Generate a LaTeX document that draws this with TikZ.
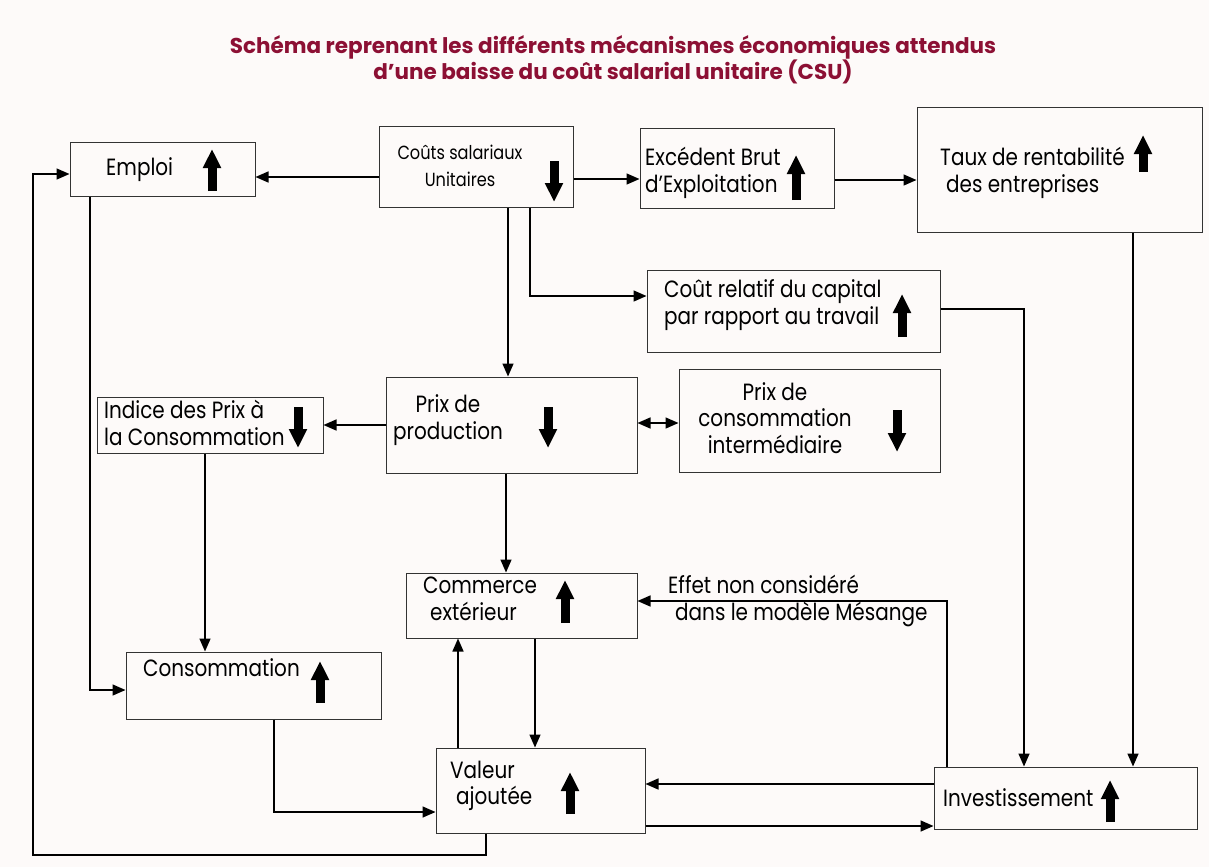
\documentclass[tikz,border=0pt]{standalone}
\usepackage{fontspec}
\usepackage{tikz}
\usetikzlibrary{arrows.meta}

\newfontfamily\bodyfont[FakeStretch=0.85]{Poppins}
\newfontfamily\titlefont{Poppins}

\definecolor{titlered}{RGB}{140,16,52}
\definecolor{paper}{RGB}{253,250,249}

\tikzset{
    box/.style={draw=black!80, line width=1pt, inner sep=0pt},
    lbl/.style={font=\bodyfont\fontsize{23.5}{26.5}\selectfont, anchor=west, align=left, inner sep=0pt},
    ttl/.style={font=\titlefont\bfseries\fontsize{21.5}{26}\selectfont, text=titlered, align=center, inner sep=0pt},
    conn/.style={line width=1.5pt, -{Triangle[length=13pt,width=11pt]}},
    bigarr/.style={line width=9pt, -{Triangle[length=19pt,width=17pt]}},
}

\begin{document}
\begin{tikzpicture}[x=1pt, y=-1pt]
    \fill[paper] (0,0) rectangle (1209,867);
    \useasboundingbox (0,0) rectangle (1209,867);

    \node[ttl] (title) at (613,60) {Schéma reprenant les différents mécanismes économiques attendus\\d’une baisse du coût salarial unitaire (CSU)};

    % boxes
    \node[box, minimum width=185pt, minimum height=54pt] (emploi) at (162.5,169) {};
    \node[box, minimum width=194pt, minimum height=81pt] (csu) at (476,166.5) {};
    \node[box, minimum width=194pt, minimum height=80pt] (ebe) at (737,168) {};
    \node[box, minimum width=285pt, minimum height=125pt] (taux) at (1059.5,169.5) {};
    \node[box, minimum width=293pt, minimum height=82pt] (crel) at (793.5,311) {};
    \node[box, minimum width=251pt, minimum height=96pt] (pprod) at (511.5,425) {};
    \node[box, minimum width=261pt, minimum height=103pt] (pci) at (809.5,420.5) {};
    \node[box, minimum width=226pt, minimum height=56pt] (ipc) at (210,425) {};
    \node[box, minimum width=231pt, minimum height=65pt] (comext) at (521.5,605.5) {};
    \node[box, minimum width=255pt, minimum height=67pt] (conso) at (253.5,685.5) {};
    \node[box, minimum width=209pt, minimum height=85pt] (va) at (540.5,790.5) {};
    \node[box, minimum width=263pt, minimum height=62pt] (invest) at (1065.5,798) {};

    % texts
    \node[lbl] (emploi-t) at (106,170) {Emploi};
    \node[lbl, anchor=center, align=center, font=\bodyfont\fontsize{19}{27}\selectfont] (csu-t) at (460,166) {Coûts salariaux\\Unitaires};
    \node[lbl] (ebe-t) at (645,173) {Excédent Brut\\d’Exploitation};
    \node[lbl] (taux-t) at (940,173) {Taux de rentabilité\\\hspace*{6pt}des entreprises};
    \node[lbl] (crel-t) at (664,305) {Coût relatif du capital\\par rapport au travail};
    \node[lbl, anchor=center, align=center] (pprod-t) at (448,420) {Prix de\\production};
    \node[lbl, anchor=center, align=center] (pci-t) at (775,418) {Prix de\\consommation\\intermédiaire};
    \node[lbl] (ipc-t) at (104,423) {Indice des Prix à\\la Consommation};
    \node[lbl] (comext-t) at (423,599) {Commerce\\\hspace*{7pt}extérieur};
    \node[lbl] (conso-t) at (143,668) {Consommation};
    \node[lbl] (va-t) at (450,786) {Valeur\\\hspace*{6pt}ajoutée};
    \node[lbl] (invest-t) at (943,798) {Investissement};
    \node[lbl] (effet) at (668,601) {Effet non considéré\\\hspace*{7pt}dans le modèle Mésange};

    % up and down
    \draw[bigarr] (212,191) -- (212,149);
    \draw[bigarr] (554,161) -- (554,202);
    \draw[bigarr] (796,200) -- (796,155);
    \draw[bigarr] (1143,172) -- (1143,135);
    \draw[bigarr] (902,337) -- (902,294);
    \draw[bigarr] (548,407) -- (548,448);
    \draw[bigarr] (897,410) -- (897,452);
    \draw[bigarr] (298,407) -- (298,448);
    \draw[bigarr] (565,623) -- (565,580);
    \draw[bigarr] (320,703) -- (320,661);
    \draw[bigarr] (570,814) -- (570,772);
    \draw[bigarr] (1110,822) -- (1110,780);

    % links
    \draw[conn] (csu.west |- 0,177) -- (emploi.east |- 0,177);
    \draw[conn] (csu.east |- 0,179) -- (ebe.west |- 0,179);
    \draw[conn] (ebe.east |- 0,180) -- (taux.west |- 0,180);
    \draw[conn] (508,0 |- csu.south) -- (508,0 |- pprod.north);
    \draw[conn] (530,0 |- csu.south) |- (crel.west |- 0,296);
    \draw[conn] (90,0 |- emploi.south) |- (conso.west |- 0,690);
    \draw[conn] (486,0 |- va.south) -- (486,855) -- (33,855) |- (emploi.west |- 0,174);
    \draw[conn] (pprod.west |- 0,425) -- (ipc.east |- 0,425);
    \draw[conn, {Triangle[length=13pt,width=11pt]}-{Triangle[length=13pt,width=11pt]}] (pprod.east |- 0,423) -- (pci.west |- 0,423);
    \draw[conn] (205,0 |- ipc.south) -- (205,0 |- conso.north);
    \draw[conn] (506,0 |- pprod.south) -- (506,0 |- comext.north);
    \draw[conn] (535,0 |- comext.south) -- (535,0 |- va.north);
    \draw[conn] (458,0 |- va.north) -- (458,0 |- comext.south);
    \draw[conn] (274,0 |- conso.south) |- (va.west |- 0,812);
    \draw[conn] (va.east |- 0,826) -- (invest.west |- 0,826);
    \draw[conn] (invest.west |- 0,784) -- (va.east |- 0,784);
    \draw[conn] (947,0 |- invest.north) |- (comext.east |- 0,601);
    \draw[conn] (crel.east |- 0,309) -| (1024,0 |- invest.north);
    \draw[conn] (1133,0 |- taux.south) -- (1133,0 |- invest.north);
\end{tikzpicture}
\end{document}
